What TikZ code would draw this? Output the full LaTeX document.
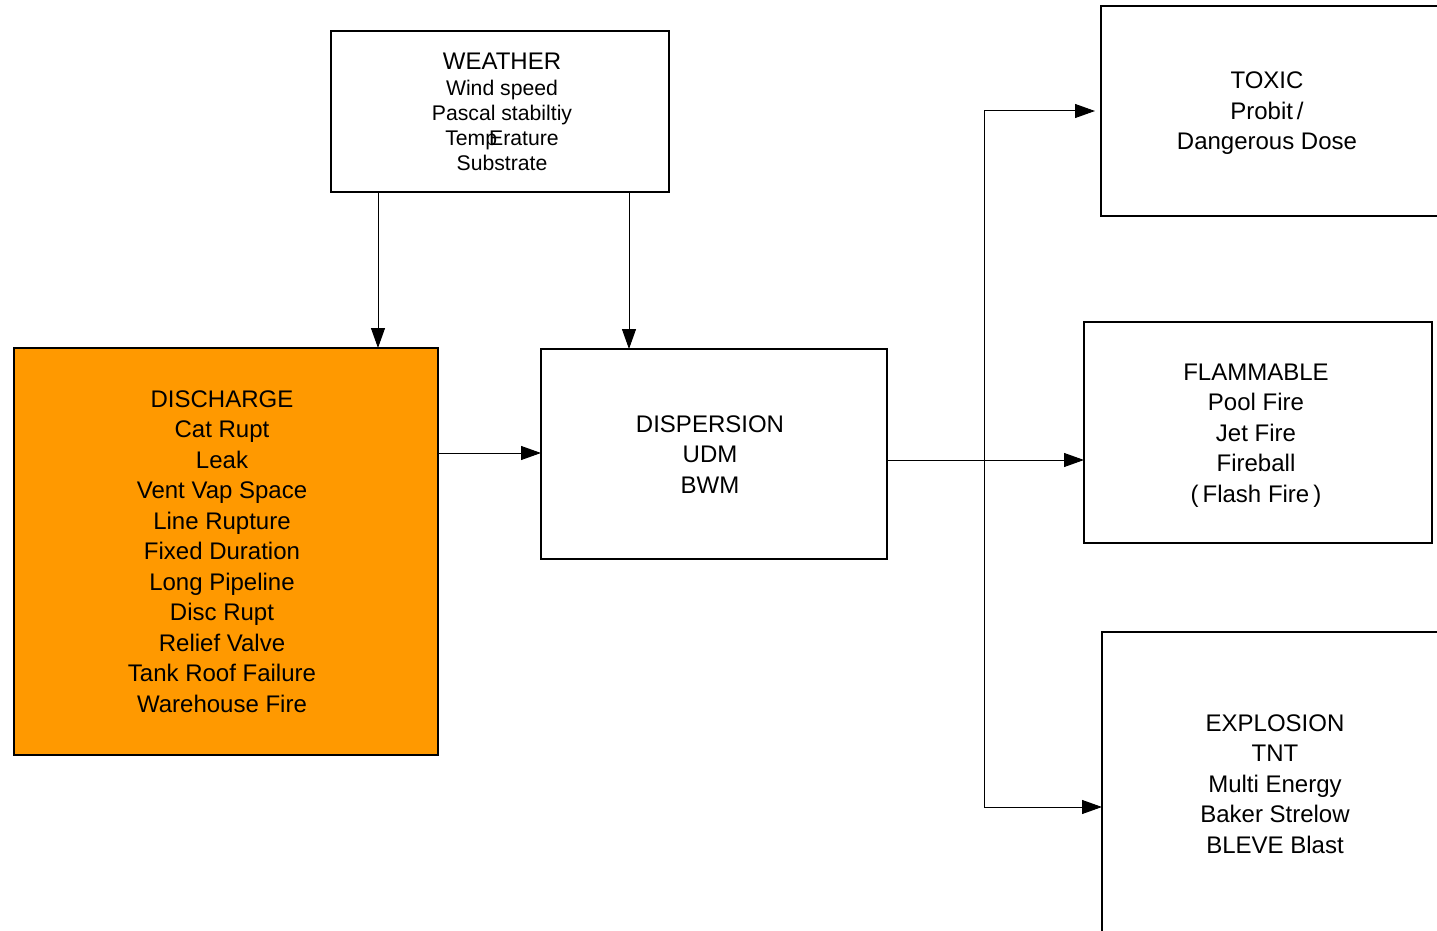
\documentclass[tikz,border=0pt]{standalone}
\usepackage{fontspec}
\setmainfont{Liberation Sans}
\usetikzlibrary{arrows.meta}
\definecolor{dischargeorange}{RGB}{255,153,0}
% centred block of lines, nudged sideways (#1) and down (#2) inside its box
\newcommand{\boxlines}[3]{\hspace*{#1}\raisebox{#2}[\height][\depth]{\begin{tabular}{@{}c@{}}#3\end{tabular}}}
\begin{document}
\begin{tikzpicture}[x=0.5pt,y=-0.5pt,
  box/.style={draw=black, line width=0.75pt, inner sep=0pt, outer sep=0pt,
    align=center, font=\fontsize{12}{15.25}\selectfont},
  link/.style={draw=black, line width=0.5pt},
  arr/.style={link, -{Triangle[length=10pt,width=7pt]}}]
\useasboundingbox (0,0) rectangle (1437,931);
\clip (0,0) rectangle (1437,931);

% source and model boxes
\node[box, minimum width=169pt, minimum height=80.5pt, font=\fontsize{10.6}{12.5}\selectfont] (weather) at (500,111.5)
  {\boxlines{2pt}{-1.6pt}{\fontsize{12}{13.5}\selectfont WEATHER\\[0.6pt]Wind speed\\Pascal stabiltiy\\Temp\kern-4pt Erature\\Substrate}};
\node[box, fill=dischargeorange, minimum width=212pt, minimum height=203.5pt] (discharge) at (226,551.5)
  {\boxlines{-4pt}{-1pt}{DISCHARGE\\Cat Rupt\\Leak\\Vent Vap Space\\Line Rupture\\Fixed Duration\\Long Pipeline\\Disc Rupt\\Relief Valve\\Tank Roof Failure\\Warehouse Fire}};
\node[box, minimum width=173pt, minimum height=105pt] (dispersion) at (714,454)
  {\boxlines{-4pt}{-1.2pt}{DISPERSION\\UDM\\BWM}};

% consequence boxes
\node[box, minimum width=172pt, minimum height=105pt] (toxic) at (1273,111)
  {\boxlines{-6pt}{-1pt}{TOXIC\\Probit\,/\\Dangerous Dose}};
\node[box, minimum width=174pt, minimum height=110.5pt] (flammable) at (1258,432.5)
  {\boxlines{-2pt}{-1.2pt}{FLAMMABLE\\Pool Fire\\Jet Fire\\Fireball\\(\,Flash Fire\,)}};
\node[box, minimum width=174pt, minimum height=154pt] (explosion) at (1276,786)
  {\boxlines{-1pt}{0pt}{EXPLOSION\\TNT\\Multi Energy\\Baker Strelow\\BLEVE Blast}};

% branch point of the consequence fan-out
\coordinate (split) at (984,460);
\coordinate (toxicin) at (1095,111);

% connectors
\draw[arr] (378,0 |- weather.south) -- (378,0 |- discharge.north);
\draw[arr] (629,0 |- weather.south) -- (629,0 |- dispersion.north);
\draw[arr] (discharge.east |- 0,453) -- (dispersion.west |- 0,453);
\draw[arr] (dispersion.east |- split) -- (flammable.west |- split);
\draw[arr] (toxicin -| split) -- (toxicin);
\draw[arr] (split |- 0,111) -- (split |- 0,807) -- (explosion.west |- 0,807);
\end{tikzpicture}
\end{document}
